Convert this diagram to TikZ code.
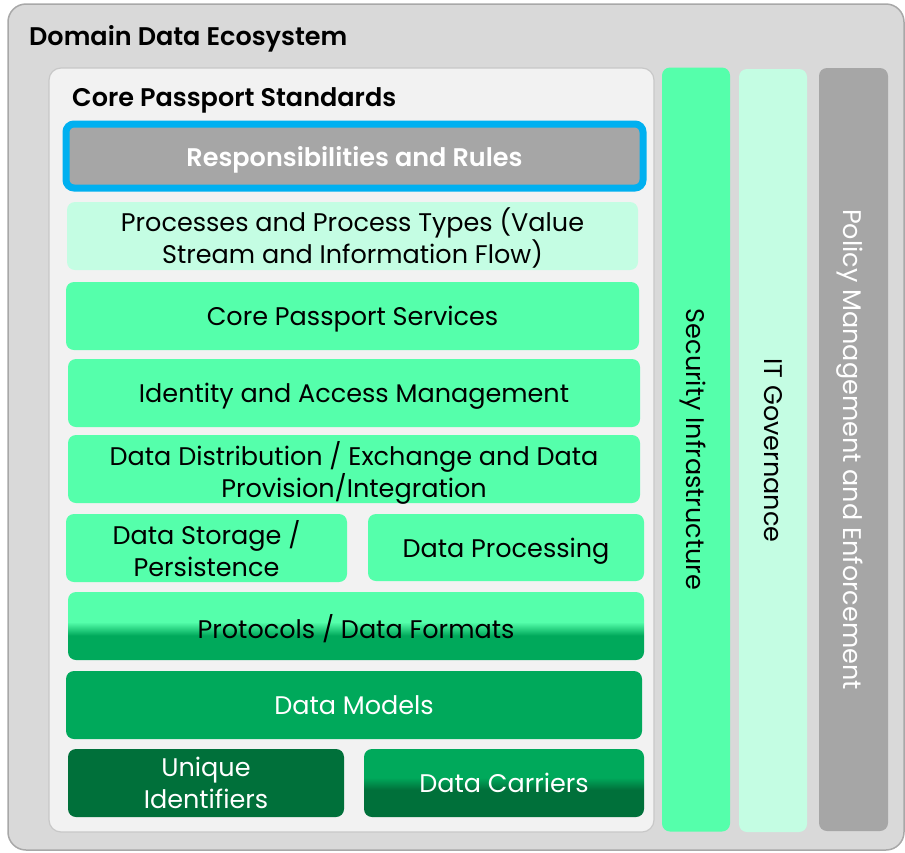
\documentclass[tikz,border=0pt]{standalone}
\usepackage{fontspec}
\setmainfont{Poppins}[BoldFont={Poppins SemiBold}]
\usetikzlibrary{shadings}
\definecolor{outerfill}{HTML}{D9D9D9}
\definecolor{outerline}{HTML}{A8A8A8}
\definecolor{innerfill}{HTML}{F2F2F2}
\definecolor{innerline}{HTML}{C8C8C8}
\definecolor{lightgreen}{HTML}{55FFAB}
\definecolor{palegreen}{HTML}{C4FDE3}
\definecolor{midgreen}{HTML}{00A95B}
\definecolor{darkgreen}{HTML}{00703A}
\definecolor{frameblue}{HTML}{00B0F0}
\definecolor{bargray}{HTML}{A6A6A6}
\pgfdeclareverticalshading{protoshade}{100bp}{color(0bp)=(midgreen); color(43bp)=(midgreen); color(53bp)=(lightgreen); color(100bp)=(lightgreen)}
\pgfdeclareverticalshading{carriershade}{100bp}{color(0bp)=(darkgreen); color(45bp)=(darkgreen); color(54bp)=(midgreen); color(100bp)=(midgreen)}

\begin{document}
\begin{tikzpicture}[x=1pt, y=-1pt,
    layer/.style={rounded corners=8pt, inner sep=0pt, align=center, text depth=0pt,
      font=\fontsize{25.5}{32}\selectfont},
    bar/.style={layer, rotate=-90, minimum width=764pt, minimum height=68pt},
    title/.style={anchor=west, inner sep=0pt, text depth=0pt, font=\fontsize{25.5}{28}\selectfont\bfseries}]
		%%%%% FRAME %%%%%
		\useasboundingbox (0, 0) rectangle (905, 852);
		\draw[fill=outerfill, draw=outerline, line width=1.5pt, rounded corners=18pt] (8, 4) rectangle (904, 850);
		\node[title] (eco) at (29, 36) {Domain Data Ecosystem};
		
		\draw[fill=innerfill, draw=innerline, line width=1.2pt, rounded corners=12pt] (49, 68) rectangle (654, 832);
		\node[title] (core) at (72, 97) {Core Passport Standards};
		
		%%%%% LAYERS %%%%%
		\node[layer, fill=bargray, draw=frameblue, line width=7pt, minimum width=577pt, minimum height=64pt, text=white, font=\fontsize{25.5}{32}\selectfont\bfseries] (resp) at (354.5, 156) {Responsibilities and Rules};
		\node[layer, fill=palegreen, minimum width=571pt, minimum height=68pt] (proc) at (352.5, 236) {Processes and Process Types (Value\\Stream and Information Flow)};
		\node[layer, fill=lightgreen, minimum width=573pt, minimum height=68pt] (cps) at (352.5, 316) {Core Passport Services};
		\node[layer, fill=lightgreen, minimum width=572pt, minimum height=68pt] (iam) at (354, 393) {Identity and Access Management};
		\node[layer, fill=lightgreen, minimum width=572pt, minimum height=68pt] (dist) at (354, 469) {Data Distribution / Exchange and Data\\Provision/Integration};
		\node[layer, fill=lightgreen, minimum width=281pt, minimum height=68pt] (stor) at (206.5, 548) {Data Storage /\\Persistence};
		\node[layer, fill=lightgreen, minimum width=276pt, minimum height=67pt] (dproc) at (506, 547.5) {Data Processing};
		\node[layer, shading=protoshade, minimum width=576pt, minimum height=68pt] (proto) at (356, 626) {Protocols / Data Formats};
		\node[layer, fill=midgreen, text=white, minimum width=576pt, minimum height=68pt] (models) at (354, 705) {Data Models};
		\node[layer, fill=darkgreen, text=white, minimum width=276pt, minimum height=68pt] (uid) at (206, 783) {Unique\\Identifiers};
		\node[layer, shading=carriershade, text=white, minimum width=280pt, minimum height=68pt] (carr) at (504, 783) {Data Carriers};
		
		%%%%% PILLARS %%%%%
		\node[bar, fill=lightgreen] (sec) at (696, 449.5) {Security Infrastructure};
		\node[bar, fill=palegreen, minimum width=763pt] (itg) at (773, 450.5) {IT Governance};
		\node[bar, fill=bargray, text=white, minimum width=763pt, minimum height=69pt] (pol) at (853.5, 449.5) {Policy Management and Enforcement};
		
		%%%%% END %%%%%
	\end{tikzpicture}
\end{document}
